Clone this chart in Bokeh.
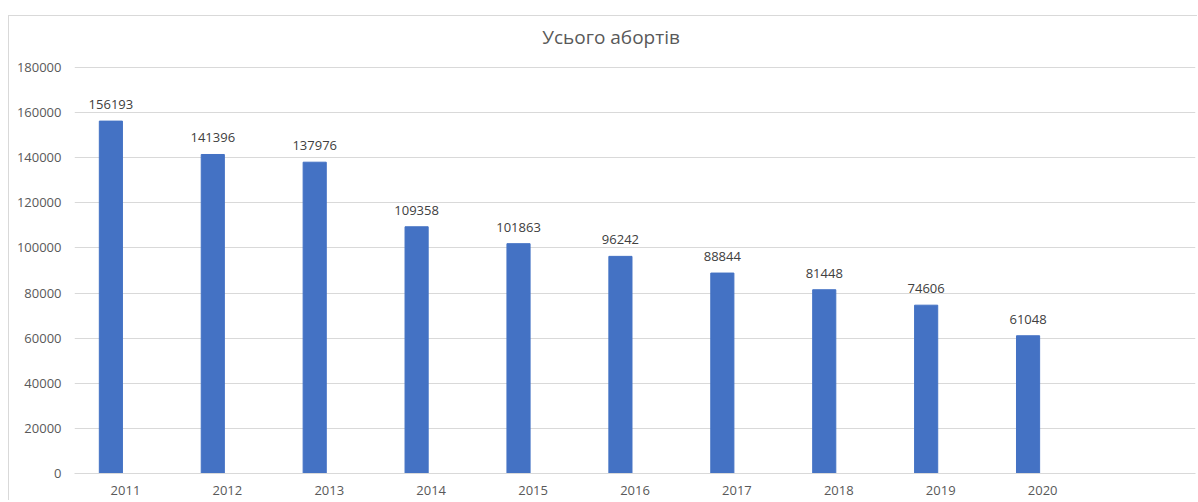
from bokeh.plotting import figure
from bokeh.layouts import column, row
from bokeh.models import ColumnDataSource, FactorRange, Range1d, FixedTicker, BasicTickFormatter, Spacer, Label
from bokeh.transform import dodge
from bokeh.core.properties import value
from bokeh.embed import file_html
from bokeh.resources import INLINE

title_text = "Усього абортів"
years = ["2011", "2012", "2013", "2014", "2015", "2016", "2017", "2018", "2019", "2020"]
totals = [156193, 141396, 137976, 109358, 101863, 96242, 88844, 81448, 74606, 61048]
y_ticks = [0, 20000, 40000, 60000, 80000, 100000, 120000, 140000, 160000, 180000]

FONT = "Open Sans"
BAR = "#4472C4"
GRID = "#d9d9d9"
TXT = "#595959"

factors = years + [" "]  # extra empty category slot, as in the source chart

# value axis tops out at 180000; the range is extended upward so the title
# can sit in the head room above the last gridline
Y_TOP = 202555
TITLE_Y = 193268

src = ColumnDataSource(dict(year=years, total=totals, label=[str(v) for v in totals]))

p = figure(
    x_range=FactorRange(*factors), y_range=Range1d(0, Y_TOP),
    width=1189, height=485,
    output_backend="svg", toolbar_location=None, tools="",
    min_border_left=65, min_border_right=3, min_border_top=0, min_border_bottom=20,
)
p.styles = {"border-left": "1px solid #d9d9d9", "border-top": "1px solid #d9d9d9"}
p.outline_line_color = None
p.background_fill_color = "white"
p.border_fill_color = "white"

p.add_layout(Label(
    x=5.265, y=TITLE_Y, x_units="data", y_units="data", text=title_text,
    text_font=FONT, text_font_size="19px", text_color=TXT,
    text_align="center", text_baseline="middle",
))

xpos = dodge("year", -0.143, range=p.x_range)
p.vbar(x=xpos, top="total", width=0.227, bottom=0, source=src,
       fill_color=BAR, line_color=BAR)
p.text(x=xpos, y="total", text="label", source=src,
       text_font=value(FONT), text_font_size="13px", text_color="#404040",
       text_align="center", text_baseline="bottom", y_offset=-12)

p.xgrid.grid_line_color = None
p.ygrid.grid_line_color = GRID
p.ygrid.ticker = FixedTicker(ticks=y_ticks)

p.yaxis.ticker = FixedTicker(ticks=y_ticks)
p.yaxis.formatter = BasicTickFormatter(use_scientific=False)
p.yaxis.axis_line_color = None
p.yaxis.major_tick_line_color = None
p.yaxis.major_tick_out = 0
p.yaxis.major_tick_in = 0
p.yaxis.minor_tick_line_color = None
p.yaxis.major_label_standoff = 13
p.yaxis.major_label_text_font = FONT
p.yaxis.major_label_text_font_size = "13px"
p.yaxis.major_label_text_color = TXT

p.xaxis.axis_line_color = GRID
p.xaxis.major_tick_line_color = None
p.xaxis.major_tick_out = 0
p.xaxis.major_tick_in = 0
p.xaxis.minor_tick_line_color = None
p.xaxis.major_label_standoff = 7
p.xaxis.major_label_text_font = FONT
p.xaxis.major_label_text_font_size = "13px"
p.xaxis.major_label_text_color = TXT

layout = column(
    Spacer(height=15, width=1198),
    row(Spacer(width=8, height=486), p, spacing=0),
    spacing=0,
)

open("out.html", "w").write(file_html(layout, INLINE))
